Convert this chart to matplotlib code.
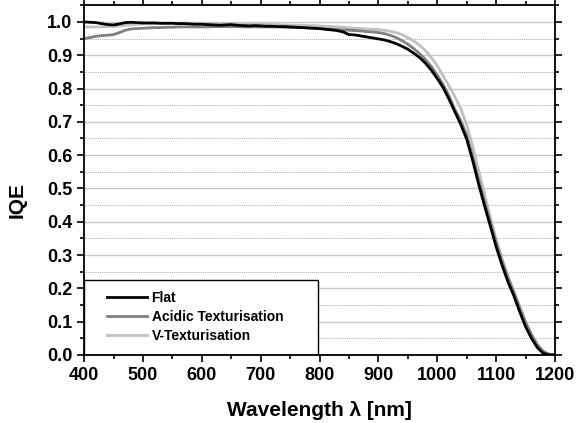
import matplotlib
matplotlib.use("Agg")
import matplotlib.pyplot as plt
from matplotlib.ticker import MultipleLocator, FormatStrFormatter
from matplotlib.patches import Rectangle

wavelength = [400, 410, 420, 430, 440, 450, 460, 470, 480, 490,
              500, 510, 520, 530, 540, 550, 560, 570, 580, 590,
              600, 610, 620, 630, 640, 650, 660, 670, 680, 690,
              700, 710, 720, 730, 740, 750, 760, 770, 780, 790,
              800, 810, 820, 830, 840, 850, 860, 870, 880, 890,
              900, 910, 920, 930, 940, 950, 960, 970, 980, 990,
              1000, 1010, 1020, 1030, 1040, 1050, 1060, 1070, 1080, 1090,
              1100, 1110, 1120, 1130, 1140, 1150, 1160, 1170, 1180, 1190,
              1200]

iqe_flat = [1.000, 0.999, 0.998, 0.995, 0.992, 0.991, 0.994, 0.998, 0.999, 0.998,
            0.997, 0.997, 0.997, 0.996, 0.996, 0.996, 0.995, 0.995, 0.994, 0.993,
            0.993, 0.992, 0.991, 0.990, 0.991, 0.992, 0.990, 0.989, 0.988, 0.989,
            0.988, 0.987, 0.987, 0.986, 0.986, 0.985, 0.984, 0.983, 0.982, 0.981,
            0.980, 0.978, 0.976, 0.974, 0.970, 0.962, 0.961, 0.958, 0.955, 0.952,
            0.949, 0.946, 0.941, 0.935, 0.927, 0.918, 0.906, 0.893, 0.876, 0.855,
            0.830, 0.803, 0.768, 0.730, 0.692, 0.648, 0.585, 0.515, 0.450, 0.388,
            0.325, 0.270, 0.220, 0.178, 0.130, 0.085, 0.050, 0.022, 0.005, 0.000,
            0.000]

iqe_acidic = [0.950, 0.953, 0.957, 0.959, 0.960, 0.962, 0.968, 0.975, 0.979, 0.980,
              0.981, 0.982, 0.983, 0.983, 0.984, 0.984, 0.985, 0.985, 0.985, 0.985,
              0.985, 0.985, 0.986, 0.986, 0.986, 0.986, 0.986, 0.985, 0.985, 0.985,
              0.985, 0.985, 0.985, 0.985, 0.984, 0.984, 0.983, 0.983, 0.982, 0.981,
              0.980, 0.979, 0.978, 0.977, 0.976, 0.975, 0.974, 0.973, 0.971, 0.970,
              0.968, 0.965, 0.960, 0.953, 0.944, 0.933, 0.920, 0.905, 0.887, 0.866,
              0.840, 0.812, 0.778, 0.737, 0.703, 0.660, 0.597, 0.528, 0.462, 0.400,
              0.338, 0.282, 0.232, 0.188, 0.142, 0.097, 0.060, 0.030, 0.010, 0.001,
              0.000]

iqe_v = [0.985, 0.985, 0.985, 0.985, 0.986, 0.986, 0.988, 0.990, 0.992, 0.993,
         0.994, 0.994, 0.995, 0.995, 0.995, 0.996, 0.996, 0.996, 0.996, 0.996,
         0.996, 0.996, 0.995, 0.995, 0.995, 0.995, 0.994, 0.994, 0.994, 0.993,
         0.993, 0.993, 0.992, 0.992, 0.991, 0.991, 0.990, 0.990, 0.989, 0.989,
         0.988, 0.987, 0.986, 0.985, 0.984, 0.982, 0.981, 0.980, 0.979, 0.978,
         0.977, 0.975, 0.972, 0.968, 0.962, 0.953, 0.943, 0.930, 0.914, 0.893,
         0.868, 0.838, 0.808, 0.775, 0.740, 0.690, 0.628, 0.556, 0.485, 0.415,
         0.348, 0.290, 0.238, 0.192, 0.146, 0.101, 0.063, 0.032, 0.012, 0.002,
         0.000]

labels = ["Flat", "Acidic Texturisation", "V-Texturisation"]
colors = ["#000000", "#808080", "#c0c0c0"]

plt.rcParams['font.family'] = ['Liberation Sans', 'DejaVu Sans']
plt.rcParams['font.weight'] = 'bold'

fig = plt.figure(figsize=(5.76, 4.23), dpi=100)
ax = fig.add_axes([0.146, 0.161, 0.8175, 0.8265])

series = [iqe_flat, iqe_acidic, iqe_v]
zorders = [5, 4, 3]
lines = []
for y, lab, c, z in zip(series, labels, colors, zorders):
    ln, = ax.plot(wavelength, y, color=c, lw=2.0, label=lab, zorder=z)
    lines.append(ln)

ax.set_xlim(400, 1200)
ax.set_ylim(0, 1.05)
ax.xaxis.set_major_locator(MultipleLocator(100))
ax.xaxis.set_minor_locator(MultipleLocator(50))
ax.yaxis.set_major_locator(MultipleLocator(0.1))
ax.yaxis.set_minor_locator(MultipleLocator(0.05))
ax.yaxis.set_major_formatter(FormatStrFormatter('%.1f'))

ax.grid(True, which='major', axis='y', color='#c8c8c8', lw=1.0, ls='-', zorder=0)
ax.grid(True, which='minor', axis='y', color='#b0b0b0', lw=0.7, ls=(0, (1, 1)), zorder=0)
ax.set_axisbelow(True)

for s in ax.spines.values():
    s.set_linewidth(1.3)
    s.set_zorder(10)

ax.tick_params(which='major', direction='out', length=5, width=1.2, labelsize=13, pad=3.5)
ax.tick_params(which='minor', direction='out', length=3, width=1.2)
ax.tick_params(which='both', top=True, right=True)

ax.set_xlabel("Wavelength λ [nm]", fontsize=15, fontweight='bold')
ax.set_ylabel("IQE", fontsize=15, fontweight='bold')
ax.xaxis.set_label_coords(0.5, -0.132)
ax.yaxis.set_label_coords(-0.122, 0.443)

box = Rectangle((0, 0), 0.497, 0.2145, transform=ax.transAxes, facecolor='white',
                edgecolor='black', lw=1.0, zorder=2)
ax.add_patch(box)
leg = ax.legend(handles=lines, labels=labels, loc='upper left', bbox_to_anchor=(0.049, 0.183),
                frameon=False, borderaxespad=0, borderpad=0, fontsize=10,
                handlelength=2.9, handletextpad=0.3, labelspacing=0.35)
leg.set_zorder(6)
for t in leg.get_texts():
    t.set_fontweight('bold')

fig.savefig("out.png", dpi=100)
